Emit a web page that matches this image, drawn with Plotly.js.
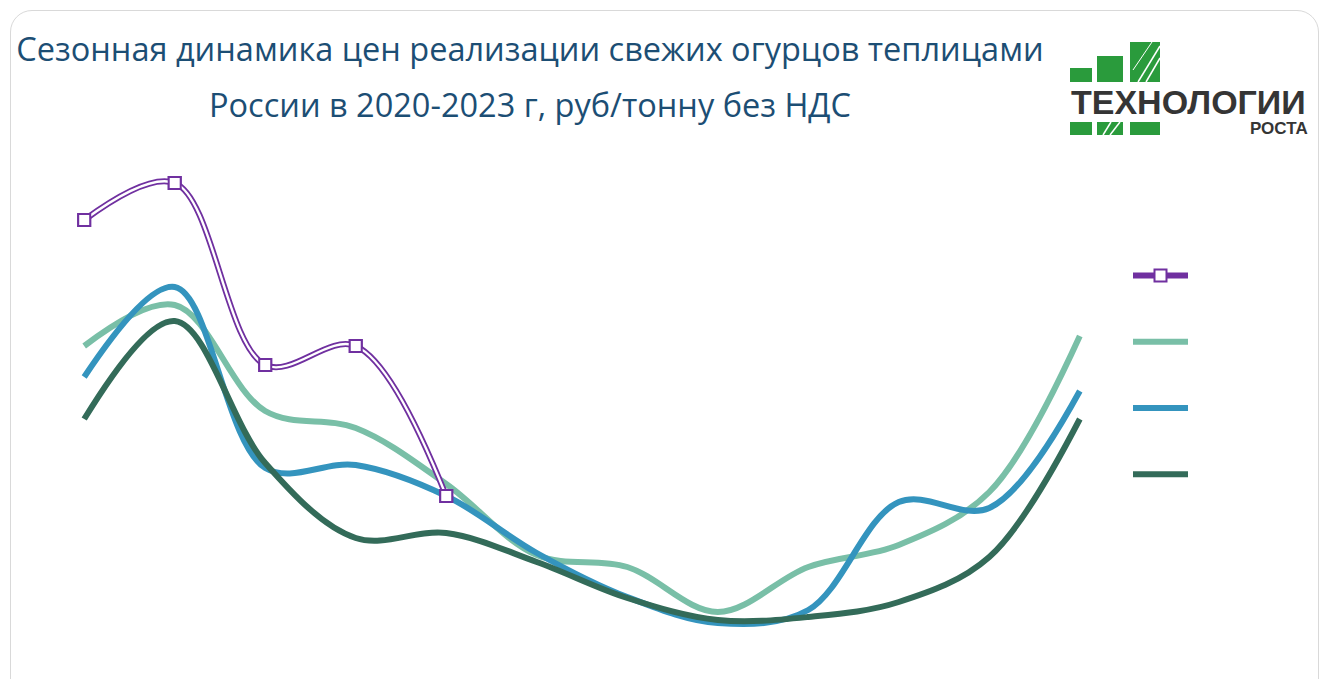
<!DOCTYPE html>
<html>
<head>
<meta charset="utf-8">
<script src="https://cdn.plot.ly/plotly-3.0.1.min.js"></script>
<style>
  html, body { margin: 0; padding: 0; background: #ffffff; }
  #frame { position: absolute; left: 10px; top: 10px; width: 1307px; height: 700px;
           border: 1.5px solid #d9d9d9; border-radius: 22px; background: #fff; }
  #chart { position: absolute; left: 0; top: 0; width: 1328px; height: 679px; }
</style>
</head>
<body>
<div id="frame"></div>
<div id="chart"></div>
<script>
// Months (x positions), values in rub/ton
const months = [1, 2, 3, 4, 5, 6, 7, 8, 9, 10, 11, 12];
const monthNames = ['Январь','Февраль','Март','Апрель','Май','Июнь','Июль','Август','Сентябрь','Октябрь','Ноябрь','Декабрь'];
const seriesNames = ['2023', '2022', '2021', '2020'];
const y2023 = [140000, 149250, 103750, 108500, 71000];
const y2022 = [108500, 118750, 92250, 88000, 74000, 56250, 53250, 42000, 53250, 58750, 72000, 111000];
const y2021 = [100750, 123250, 78000, 78750, 71000, 56750, 45750, 39250, 42500, 69500, 68000, 97250];
const y2020 = [90250, 114750, 79250, 60500, 61750, 54500, 45500, 40000, 40750, 44500, 55750, 90250];

const titleLine1 = 'Сезонная динамика цен реализации свежих огурцов теплицами';
const titleLine2 = 'России в 2020-2023 г, руб/тонну без НДС';

const purple = '#7030a0';
const cLight = '#79bfa7';
const cBlue = '#3494be';
const cDark = '#336b59';

const traces = [
  {x: months.slice(0, y2022.length), y: y2022, name: seriesNames[1], mode: 'lines',
   line: {color: cLight, width: 6, shape: 'spline', smoothing: 1}, legendrank: 2, legendgroup: 'b'},
  {x: months.slice(0, y2021.length), y: y2021, name: seriesNames[2], mode: 'lines',
   line: {color: cBlue, width: 6, shape: 'spline', smoothing: 1}, legendrank: 3, legendgroup: 'c'},
  {x: months.slice(0, y2020.length), y: y2020, name: seriesNames[3], mode: 'lines',
   line: {color: cDark, width: 6, shape: 'spline', smoothing: 1}, legendrank: 4, legendgroup: 'd'},
  {x: months.slice(0, y2023.length), y: y2023, name: seriesNames[0], mode: 'lines+markers',
   line: {color: purple, width: 6, shape: 'spline', smoothing: 1},
   marker: {symbol: 'square', size: 12, color: '#ffffff', line: {color: purple, width: 2}},
   legendrank: 1, legendgroup: 'a'},
  {x: months.slice(0, y2023.length), y: y2023, name: seriesNames[0] + ' ', mode: 'lines',
   line: {color: '#ffffff', width: 2.4, shape: 'spline', smoothing: 1}, showlegend: false, hoverinfo: 'skip'},
  {x: months.slice(0, y2023.length), y: y2023, name: seriesNames[0] + '  ', mode: 'markers',
   marker: {symbol: 'square', size: 12, color: '#ffffff', line: {color: purple, width: 2}},
   showlegend: false, hoverinfo: 'skip', cliponaxis: false}
];

const green = '#2a9b3c';
function px(x) { return (x - 48) / 1068; }
function py(y) { return (660 - y) / 510; }
function rect(x0, y0, x1, y1, color) {
  return {type: 'rect', xref: 'paper', yref: 'paper', x0: px(x0), x1: px(x1), y0: py(y1), y1: py(y0),
          fillcolor: color, line: {width: 0}, layer: 'above'};
}
function seg(x0, y0, x1, y1, color, w) {
  return {type: 'line', xref: 'paper', yref: 'paper', x0: px(x0), x1: px(x1), y0: py(y0), y1: py(y1),
          line: {color: color, width: w}, layer: 'above'};
}
const logoShapes = [
  rect(1070, 68, 1092, 82, green),
  rect(1097, 56, 1123, 82, green),
  rect(1130, 42, 1160, 82, green),
  rect(1070, 122, 1092, 135, green),
  rect(1097, 122, 1123, 135, green),
  rect(1130, 122, 1160, 135, green),
  seg(1138, 82, 1160, 46, '#ffffff', 1.5),
  seg(1146, 82, 1160, 58, '#ffffff', 1.5),
  seg(1133, 70, 1152, 42, '#ffffff', 1),
  seg(1103, 135, 1111, 122, '#ffffff', 1.5),
  seg(1110, 135, 1120, 122, '#ffffff', 1.5)
];

const layout = {
  width: 1328, height: 679,
  paper_bgcolor: 'rgba(0,0,0,0)', plot_bgcolor: 'rgba(0,0,0,0)',
  margin: {l: 48, r: 212, t: 150, b: 19},
  font: {family: 'Open Sans, sans-serif'},
  title: {text: titleLine1, x: 530 / 1328, xanchor: 'center', xref: 'container',
          y: 1 - 50 / 679, yanchor: 'middle', yref: 'container',
          font: {family: 'Open Sans, sans-serif', size: 32.5, color: '#1c4e74'}},
  xaxis: {range: [0.6, 12.4], visible: false, showgrid: false, zeroline: false,
          tickvals: months, ticktext: monthNames, fixedrange: true},
  yaxis: {range: [30000, 157500], visible: false, showgrid: false, zeroline: false, fixedrange: true},
  showlegend: true,
  legend: {x: px(1128), xanchor: 'left', y: py(260), yanchor: 'top', xref: 'paper', yref: 'paper',
           itemwidth: 55, tracegroupgap: 45, font: {size: 14, color: '#ffffff'},
           bgcolor: 'rgba(0,0,0,0)', traceorder: 'grouped'},
  annotations: [
    {text: titleLine2, xref: 'paper', yref: 'paper', x: px(530), y: py(104), xanchor: 'center', yanchor: 'middle',
     showarrow: false, font: {family: 'Open Sans, sans-serif', size: 32.5, color: '#1c4e74'}},
    {text: '<b>ТЕХНОЛОГИИ</b>', xref: 'paper', yref: 'paper', x: px(1188), y: py(102), xanchor: 'center', yanchor: 'middle',
     showarrow: false, font: {family: 'Liberation Sans, Arial, sans-serif', size: 34, color: '#353535'}},
    {text: '<b>РОСТА</b>', xref: 'paper', yref: 'paper', x: px(1310), y: py(129), xanchor: 'right', yanchor: 'middle',
     showarrow: false, font: {family: 'Liberation Sans, Arial, sans-serif', size: 17, color: '#353535'}}
  ],
  shapes: logoShapes,
  hovermode: 'closest'
};

Plotly.newPlot('chart', traces, layout, {displayModeBar: false, responsive: false});
</script>
</body>
</html>
